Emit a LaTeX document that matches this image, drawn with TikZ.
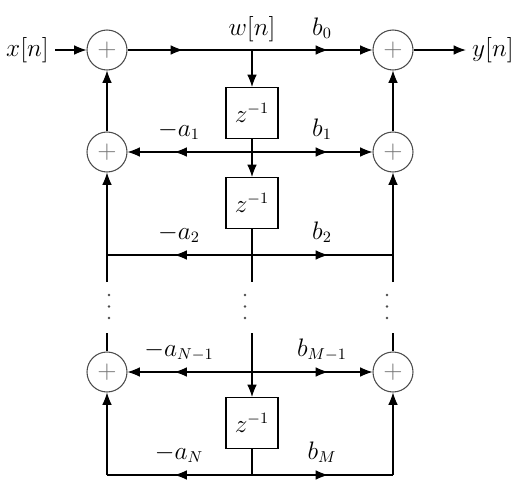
\documentclass[tikz,border=0pt]{standalone}
\usetikzlibrary{calc, arrows.meta, decorations.markings}
\colorlet{AdderLine}{black!70}
\colorlet{AdderSign}{black!55}
\tikzset{
    adder/.style={circle, draw=AdderLine, text=AdderSign, minimum size=0.8cm,
        inner sep=0pt, font=\fontsize{14}{16}\selectfont},
    delay/.style={draw, minimum width=1.04cm, minimum height=1.02cm, inner sep=0pt},
    tip/.style={-{Latex[length=7pt, width=5.5pt]}},
    midtip/.style={postaction={decorate}, decoration={markings,
        mark=at position #1 with {\arrow{Latex[length=7pt, width=5.5pt]}}}},
    coef/.style={anchor=base},
}

\begin{document}
\begin{tikzpicture}[line width=0.6pt, font=\fontsize{13.5}{16}\selectfont]

    \useasboundingbox (0, 0) rectangle (10.44, -9.78);

    % Nodos de la rama central
    \coordinate (W0) at (5.04, -1.0);
    \coordinate (W1) at (5.04, -3.04);
    \coordinate (W2) at (5.04, -5.1);
    \coordinate (WN1) at (5.04, -7.44);
    \coordinate (WN) at (5.04, -9.5);

    % Esquinas y cortes de las columnas
    \coordinate (A2) at (2.14, -5.1);
    \coordinate (B2) at (7.86, -5.1);
    \coordinate (AN) at (2.14, -9.5);
    \coordinate (BN) at (7.86, -9.5);
    \coordinate (A2s) at (2.14, -5.64);
    \coordinate (W2s) at (5.04, -5.64);
    \coordinate (B2s) at (7.86, -5.64);
    \coordinate (A3s) at (2.14, -6.66);
    \coordinate (W3s) at (5.04, -6.66);
    \coordinate (B3s) at (7.86, -6.66);

    % Sumadores
    \node[adder] (L0) at (2.14, -1.0) {$+$};
    \node[adder] (L1) at (2.14, -3.04) {$+$};
    \node[adder] (LN) at (2.14, -7.44) {$+$};
    \node[adder] (R0) at (7.86, -1.0) {$+$};
    \node[adder] (R1) at (7.86, -3.04) {$+$};
    \node[adder] (RN) at (7.86, -7.44) {$+$};

    % Retardos
    \node[delay] (D1) at (5.04, -2.26) {$z^{-1}$};
    \node[delay] (D2) at (5.04, -4.06) {$z^{-1}$};
    \node[delay] (D3) at (5.04, -8.46) {$z^{-1}$};

    \node (x) at (0.55, -1.0) {$x[n]$};
    \node (y) at (9.86, -1.0) {$y[n]$};

    % Fila superior
    \draw[tip] (x) -- (L0);
    \draw[midtip=-1.38cm] (L0) -- (W0);
    \draw[tip, midtip=1.52cm] (W0) -- (R0);
    \draw[tip] (R0) -- (y);

    % Rama central
    \draw[tip] (W0) -- (D1);
    \draw (D1) -- (W1);
    \draw[tip] (W1) -- (D2);
    \draw (D2) -- (W2s);
    \draw (W3s) -- (WN1);
    \draw[tip] (WN1) -- (D3);
    \draw (D3) -- (WN);

    % Coeficientes
    \draw[tip, midtip=1.55cm] (W1) -- (L1);
    \draw[tip, midtip=1.52cm] (W1) -- (R1);
    \draw[midtip=1.55cm] (W2) -- (A2);
    \draw[midtip=1.52cm] (W2) -- (B2);
    \draw[tip, midtip=1.55cm] (WN1) -- (LN);
    \draw[tip, midtip=1.52cm] (WN1) -- (RN);
    \draw[midtip=1.55cm] (WN) -- (AN);
    \draw[midtip=1.52cm] (WN) -- (BN);

    % Columnas laterales
    \draw[tip] (L1) -- (L0);
    \draw[tip] (R1) -- (R0);
    \draw[tip] (A2s) -- (L1);
    \draw[tip] (B2s) -- (R1);
    \draw (A3s) -- (LN);
    \draw (B3s) -- (RN);
    \draw[tip] (AN) -- (LN);
    \draw[tip] (BN) -- (RN);

    \node[coef] at ($(W0)+(0, 0.3)$) {$w[n]$};
    \node[coef] at ($(W0)+(1.4, 0.3)$) {$b_0$};
    \node[coef] at ($(W1)+(-1.46, 0.32)$) {$-a_1$};
    \node[coef] at ($(W1)+(1.4, 0.32)$) {$b_1$};
    \node[coef] at ($(W2)+(-1.46, 0.32)$) {$-a_2$};
    \node[coef] at ($(W2)+(1.4, 0.32)$) {$b_2$};
    \node[coef] at ($(WN1)+(-1.46, 0.32)$) {$-a_{N-1}$};
    \node[coef] at ($(WN1)+(1.4, 0.32)$) {$b_{M-1}$};
    \node[coef] at ($(WN)+(-1.46, 0.32)$) {$-a_N$};
    \node[coef] at ($(WN)+(1.4, 0.32)$) {$b_M$};

    % Puntos suspensivos
    \foreach \px in {2.18, 4.9, 7.74}
        \foreach \py in {-5.9, -6.13, -6.36}
            \fill[black!70] (\px, \py) circle (0.028);
\end{tikzpicture}
\end{document}
